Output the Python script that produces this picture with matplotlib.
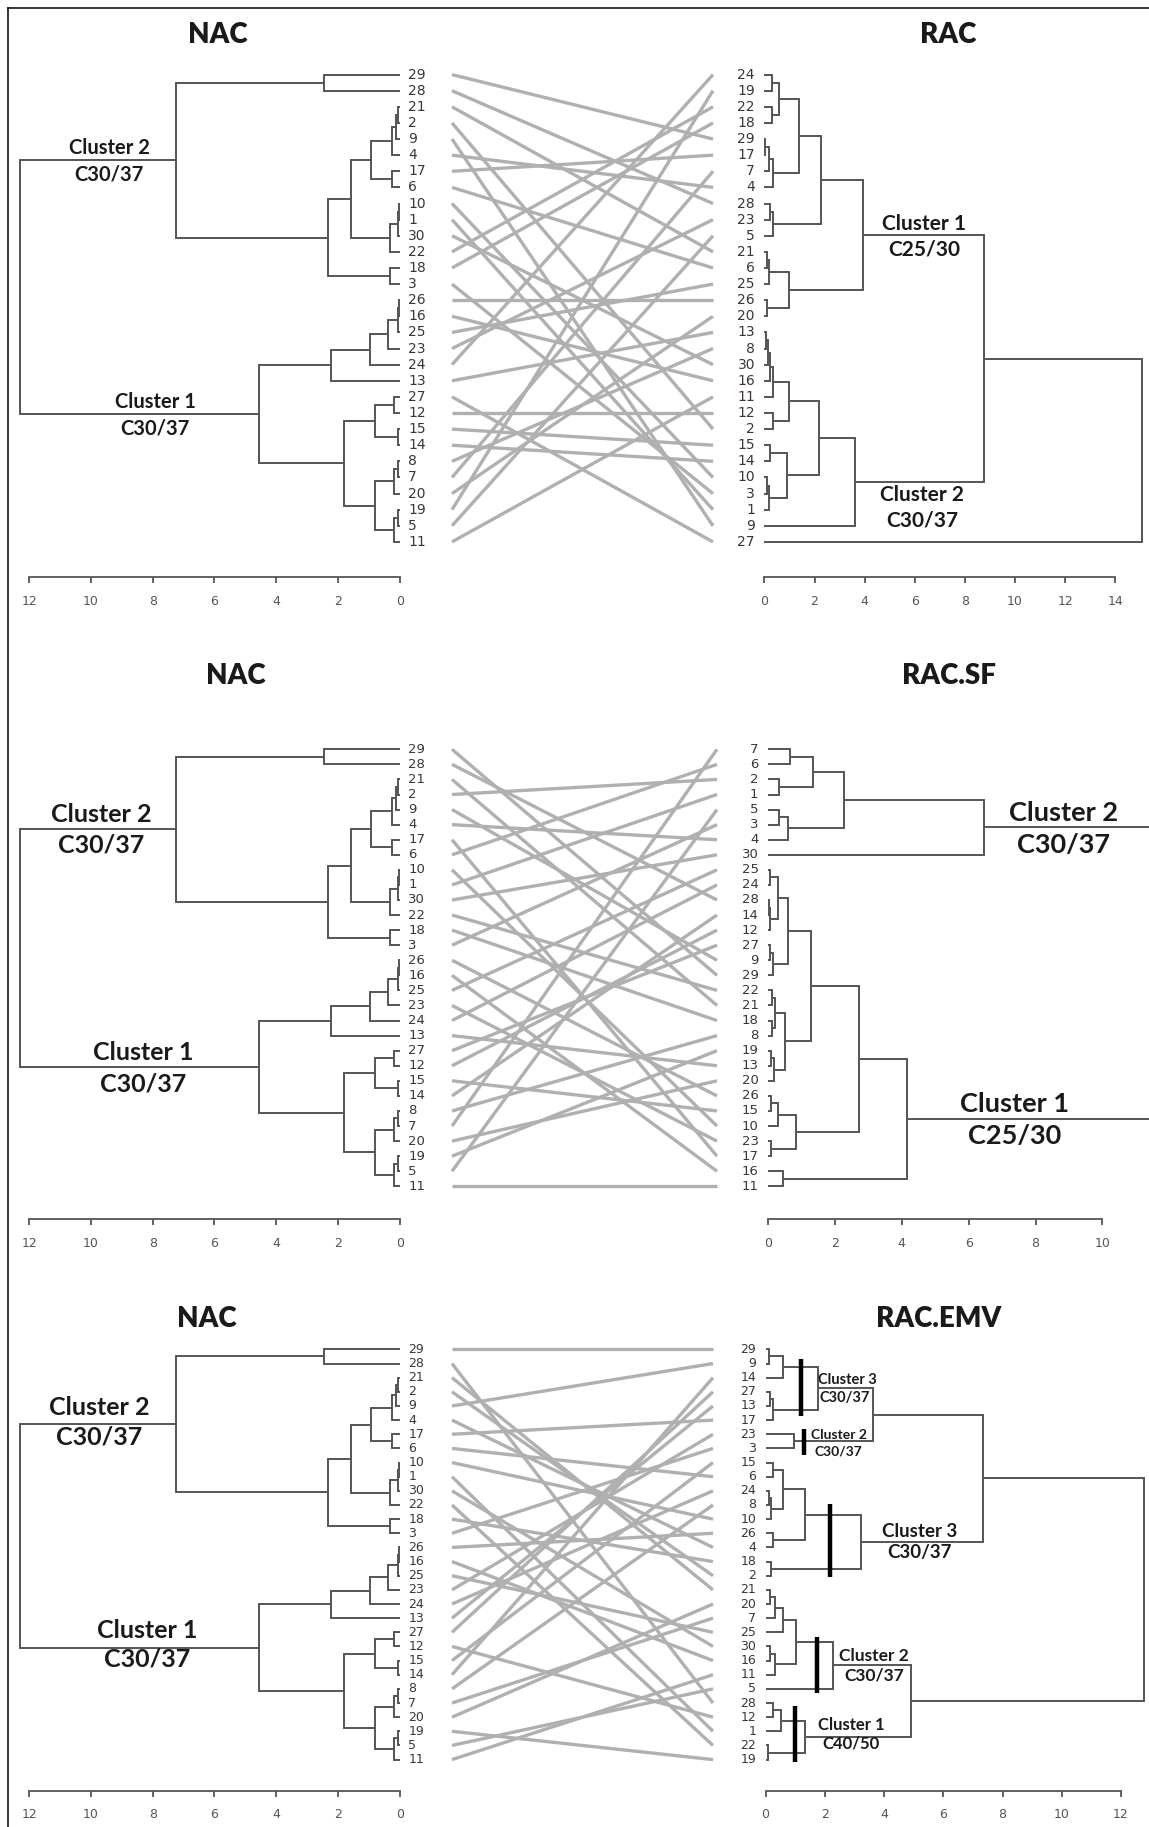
import matplotlib
matplotlib.use("Agg")
import matplotlib.pyplot as plt
from matplotlib.lines import Line2D

# ------------------------------------------------------------------ data
# Dendrograms as nested tuples: (merge height, left branch, right branch); leaves are sample labels
nac_tree = (12.29,
    (7.24,
        (2.46, "29", "28"),
        (2.33,
            (1.58,
                (0.94,
                    (0.25, (0.13, (0.05, "21", "2"), "9"), "4"),
                    (0.25, "17", "6")),
                (0.33, (0.06, (0.02, "10", "1"), "30"), "22")),
            (0.33, "18", "3"))),
    (4.56,
        (2.23,
            (0.95,
                (0.39, (0.07, (0.02, "26", "16"), "25"), "23"),
                "24"),
            "13"),
        (1.79,
            (0.79, (0.20, "27", "12"), (0.04, "15", "14")),
            (0.79, (0.20, (0.04, "8", "7"), "20"), (0.20, (0.07, "19", "5"), "11")))))

rac_tree = (15.05,
    (8.76,
        (3.92,
            (2.27,
                (1.40,
                    (0.60, (0.29, "24", "19"), (0.29, "22", "18")),
                    (0.36, (0.20, (0.03, "29", "17"), "7"), "4")),
                (0.36, (0.23, "28", "23"), "5")),
            (0.99, (0.20, (0.09, "21", "6"), "25"), (0.10, "26", "20"))),
        (3.63,
            (2.16,
                (0.99,
                    (0.36, (0.23, (0.13, (0.05, "13", "8"), "30"), "16"), "11"),
                    (0.33, "12", "2")),
                (0.89, (0.23, "15", "14"), (0.20, (0.09, "10", "3"), "1"))),
            "9")),
    "27")

racsf_tree = (12.0,
    (6.47,
        (2.27,
            (1.35, (0.65, "7", "6"), (0.32, "2", "1")),
            (0.59, (0.32, "5", "3"), "4")),
        "30"),
    (4.17,
        (2.72,
            (1.30,
                (0.59,
                    (0.30, (0.07, "25", "24"), (0.07, (0.02, "28", "14"), "12")),
                    (0.14, (0.05, "27", "9"), "29")),
                (0.52,
                    (0.22, (0.12, "22", "21"), (0.12, "18", "8")),
                    (0.17, (0.10, "19", "13"), "20"))),
            (0.85, (0.30, (0.09, "26", "15"), "10"), (0.09, "23", "17"))),
        (0.45, "16", "11")))

racemv_tree = (12.79,
    (7.35,
        (3.63,
            (1.77,
                (0.59, (0.11, "29", "9"), "14"),
                (0.25, (0.14, "27", "13"), "17")),
            (0.96, "23", "3")),
        (3.23,
            (1.32,
                (0.59, (0.25, "15", "6"), (0.19, (0.11, "24", "8"), "10")),
                (0.25, "26", "4")),
            (0.19, "18", "2"))),
    (4.90,
        (2.28,
            (1.04,
                (0.59, (0.33, (0.16, "21", "20"), "7"), "25"),
                (0.33, (0.16, "30", "16"), "11")),
            "5"),
        (1.32, (0.51, (0.25, "28", "12"), "1"), (0.08, "22", "19"))))

# cut bars on RAC.EMV: (height, first leaf index, last leaf index)
emv_cut_heights = [1.20, 1.28, 2.16, 1.75, 0.98]
emv_cut_from = [0.7, 5.6, 10.9, 20.3, 25.2]
emv_cut_to = [4.7, 7.5, 16.1, 24.3, 29.2]

titles_left = ["NAC", "NAC", "NAC"]
titles_right = ["RAC", "RAC.SF", "RAC.EMV"]

# ------------------------------------------------------------------ style / layout
W, H, DPI = 1149, 1827, 100
fig = plt.figure(figsize=(W / DPI, H / DPI), dpi=DPI)
fig.patch.set_facecolor("white")

DEND_COLOR = "#555555"
LINK_COLOR = "#b0b0b0"
LABEL_COLOR = "#3e3434"
TICK_COLOR = "#555555"
LEAF_FONT = ["Liberation Sans Narrow", "DejaVu Sans"]
BOLD_FONT = ["Lato", "DejaVu Sans"]


def px_axes(x0, x1, y0, y1):
    return fig.add_axes([x0 / W, 1 - y1 / H, (x1 - x0) / W, (y1 - y0) / H])


def leaves(node):
    return [node] if isinstance(node, str) else leaves(node[1]) + leaves(node[2])


def draw_tree(ax, node, order):
    if isinstance(node, str):
        return 0.0, order.index(node)
    h, a, b = node
    ha, ya = draw_tree(ax, a, order)
    hb, yb = draw_tree(ax, b, order)
    ax.plot([ha, h, h, hb], [ya, ya, yb, yb], color=DEND_COLOR, lw=1.4,
            clip_on=False, solid_joinstyle="miter", solid_capstyle="butt")
    return h, (ya + yb) / 2


def style_axis(ax, xmax, offset):
    for s in ["top", "right", "left"]:
        ax.spines[s].set_visible(False)
    sp = ax.spines["bottom"]
    sp.set_position(("outward", offset))
    sp.set_bounds(0, xmax)
    sp.set_color(TICK_COLOR)
    sp.set_linewidth(1.3)
    ax.set_xticks(list(range(0, xmax + 1, 2)))
    ax.set_yticks([])
    ax.tick_params(axis="x", length=4.5, width=1.3, color=TICK_COLOR,
                   labelsize=9, labelcolor=TICK_COLOR, pad=8)
    ax.patch.set_visible(False)


panels = [
    dict(right=rac_tree, ytop=74.6, ybot=541.9, rx=(764.4, 1115.2), rmax=14,
         link=(452, 713), leaf_fs=10, ty=35, ltx=218, rtx=948,
         llabels=[("Cluster 2", 9.41, 4.54, 14.5), ("C30/37", 9.41, 6.2, 14.5),
                  ("Cluster 1", 7.92, 20.33, 14.5), ("C30/37", 7.92, 21.97, 14.5)],
         rlabels=[("Cluster 1", 6.36, 9.25, 15), ("C25/30", 6.36, 10.88, 15),
                  ("Cluster 2", 6.29, 26.1, 15), ("C30/37", 6.29, 27.7, 15)]),
    dict(right=racsf_tree, ytop=749.3, ybot=1186.3, rx=(768.0, 1102.4), rmax=10,
         link=(452, 717), leaf_fs=9.5, ty=676, ltx=236, rtx=949,
         llabels=[("Cluster 2", 9.66, 4.34, 18), ("C30/37", 9.66, 6.33, 18),
                  ("Cluster 1", 8.31, 20.09, 18), ("C30/37", 8.31, 22.2, 18)],
         rlabels=[("Cluster 2", 8.85, 4.25, 19.5), ("C30/37", 8.85, 6.34, 19.5),
                  ("Cluster 1", 7.37, 23.55, 19.5), ("C25/30", 7.37, 25.66, 19.5)]),
    dict(right=racemv_tree, ytop=1349.4, ybot=1759.6, rx=(765.6, 1121.0), rmax=12,
         link=(452, 713), leaf_fs=9, ty=1319, ltx=207, rtx=939,
         llabels=[("Cluster 2", 9.74, 4.12, 18), ("C30/37", 9.74, 6.16, 18),
                  ("Cluster 1", 8.18, 19.84, 18), ("C30/37", 8.18, 21.89, 18)],
         rlabels=[("Cluster 3", 2.76, 2.18, 10.5), ("C30/37", 2.67, 3.41, 10.5),
                  ("Cluster 2", 2.47, 6.06, 10), ("C30/37", 2.47, 7.24, 10),
                  ("Cluster 3", 5.2, 12.88, 13.5), ("C30/37", 5.2, 14.36, 13.5),
                  ("Cluster 2", 3.66, 21.71, 12.5), ("C30/37", 3.66, 23.07, 12.5),
                  ("Cluster 1", 2.9, 26.53, 12), ("C40/50", 2.9, 27.89, 12)]),
]

for k, p in enumerate(panels):
    left_order = leaves(nac_tree)
    right_order = leaves(p["right"])
    n = len(left_order)
    spacing = (p["ybot"] - p["ytop"]) / (n - 1)
    offset_pt = 2.2 * spacing * 72 / DPI

    # left dendrogram (NAC)
    axl = px_axes(29.1, 399.7, p["ytop"], p["ybot"])
    draw_tree(axl, nac_tree, left_order)
    axl.set_xlim(12, 0)
    axl.set_ylim(n - 1, 0)
    style_axis(axl, 12, offset_pt)
    for i, lab in enumerate(left_order):
        axl.annotate(lab, xy=(0, i), xytext=(6.2, 0), textcoords="offset points",
                     ha="left", va="center", fontsize=p["leaf_fs"],
                     family=LEAF_FONT, color=LABEL_COLOR, annotation_clip=False)
    for txt, x, y, fs in p["llabels"]:
        axl.text(x, y, txt, ha="center", va="center", fontsize=fs,
                 family=BOLD_FONT, fontweight="bold", color="#1a1a1a", clip_on=False)

    # right dendrogram
    axr = px_axes(p["rx"][0], p["rx"][1], p["ytop"], p["ybot"])
    draw_tree(axr, p["right"], right_order)
    axr.set_xlim(0, p["rmax"])
    axr.set_ylim(n - 1, 0)
    style_axis(axr, p["rmax"], offset_pt)
    for i, lab in enumerate(right_order):
        axr.annotate(lab, xy=(0, i), xytext=(-6.8, 0), textcoords="offset points",
                     ha="right", va="center", fontsize=p["leaf_fs"],
                     family=LEAF_FONT, color=LABEL_COLOR, annotation_clip=False)
    for txt, x, y, fs in p["rlabels"]:
        axr.text(x, y, txt, ha="center", va="center", fontsize=fs,
                 family=BOLD_FONT, fontweight="bold", color="#1a1a1a", clip_on=False)
    if k == 2:
        axr.vlines(emv_cut_heights, emv_cut_from, emv_cut_to, color="black",
                   lw=3.2, clip_on=False)

    # connecting lines
    axm = px_axes(p["link"][0], p["link"][1], p["ytop"], p["ybot"])
    for lab in left_order:
        axm.plot([0, 1], [left_order.index(lab), right_order.index(lab)],
                 color=LINK_COLOR, lw=2.4, solid_capstyle="butt", clip_on=False)
    axm.set_xlim(0, 1)
    axm.set_ylim(n - 1, 0)
    axm.axis("off")

    # titles
    fig.text(p["ltx"] / W, 1 - p["ty"] / H, titles_left[k], ha="center", va="center",
             fontsize=20, family=BOLD_FONT, fontweight="heavy", color="#1a1a1a")
    fig.text(p["rtx"] / W, 1 - p["ty"] / H, titles_right[k], ha="center", va="center",
             fontsize=20, family=BOLD_FONT, fontweight="heavy", color="#1a1a1a")

# outer frame (left and top edges)
fig.add_artist(Line2D([7.5 / W, 7.5 / W], [0, 1 - 7.5 / H], color="black", lw=1.1))
fig.add_artist(Line2D([7.5 / W, 1], [1 - 7.5 / H, 1 - 7.5 / H], color="black", lw=1.1))

fig.savefig("out.png", dpi=DPI, facecolor="white")
